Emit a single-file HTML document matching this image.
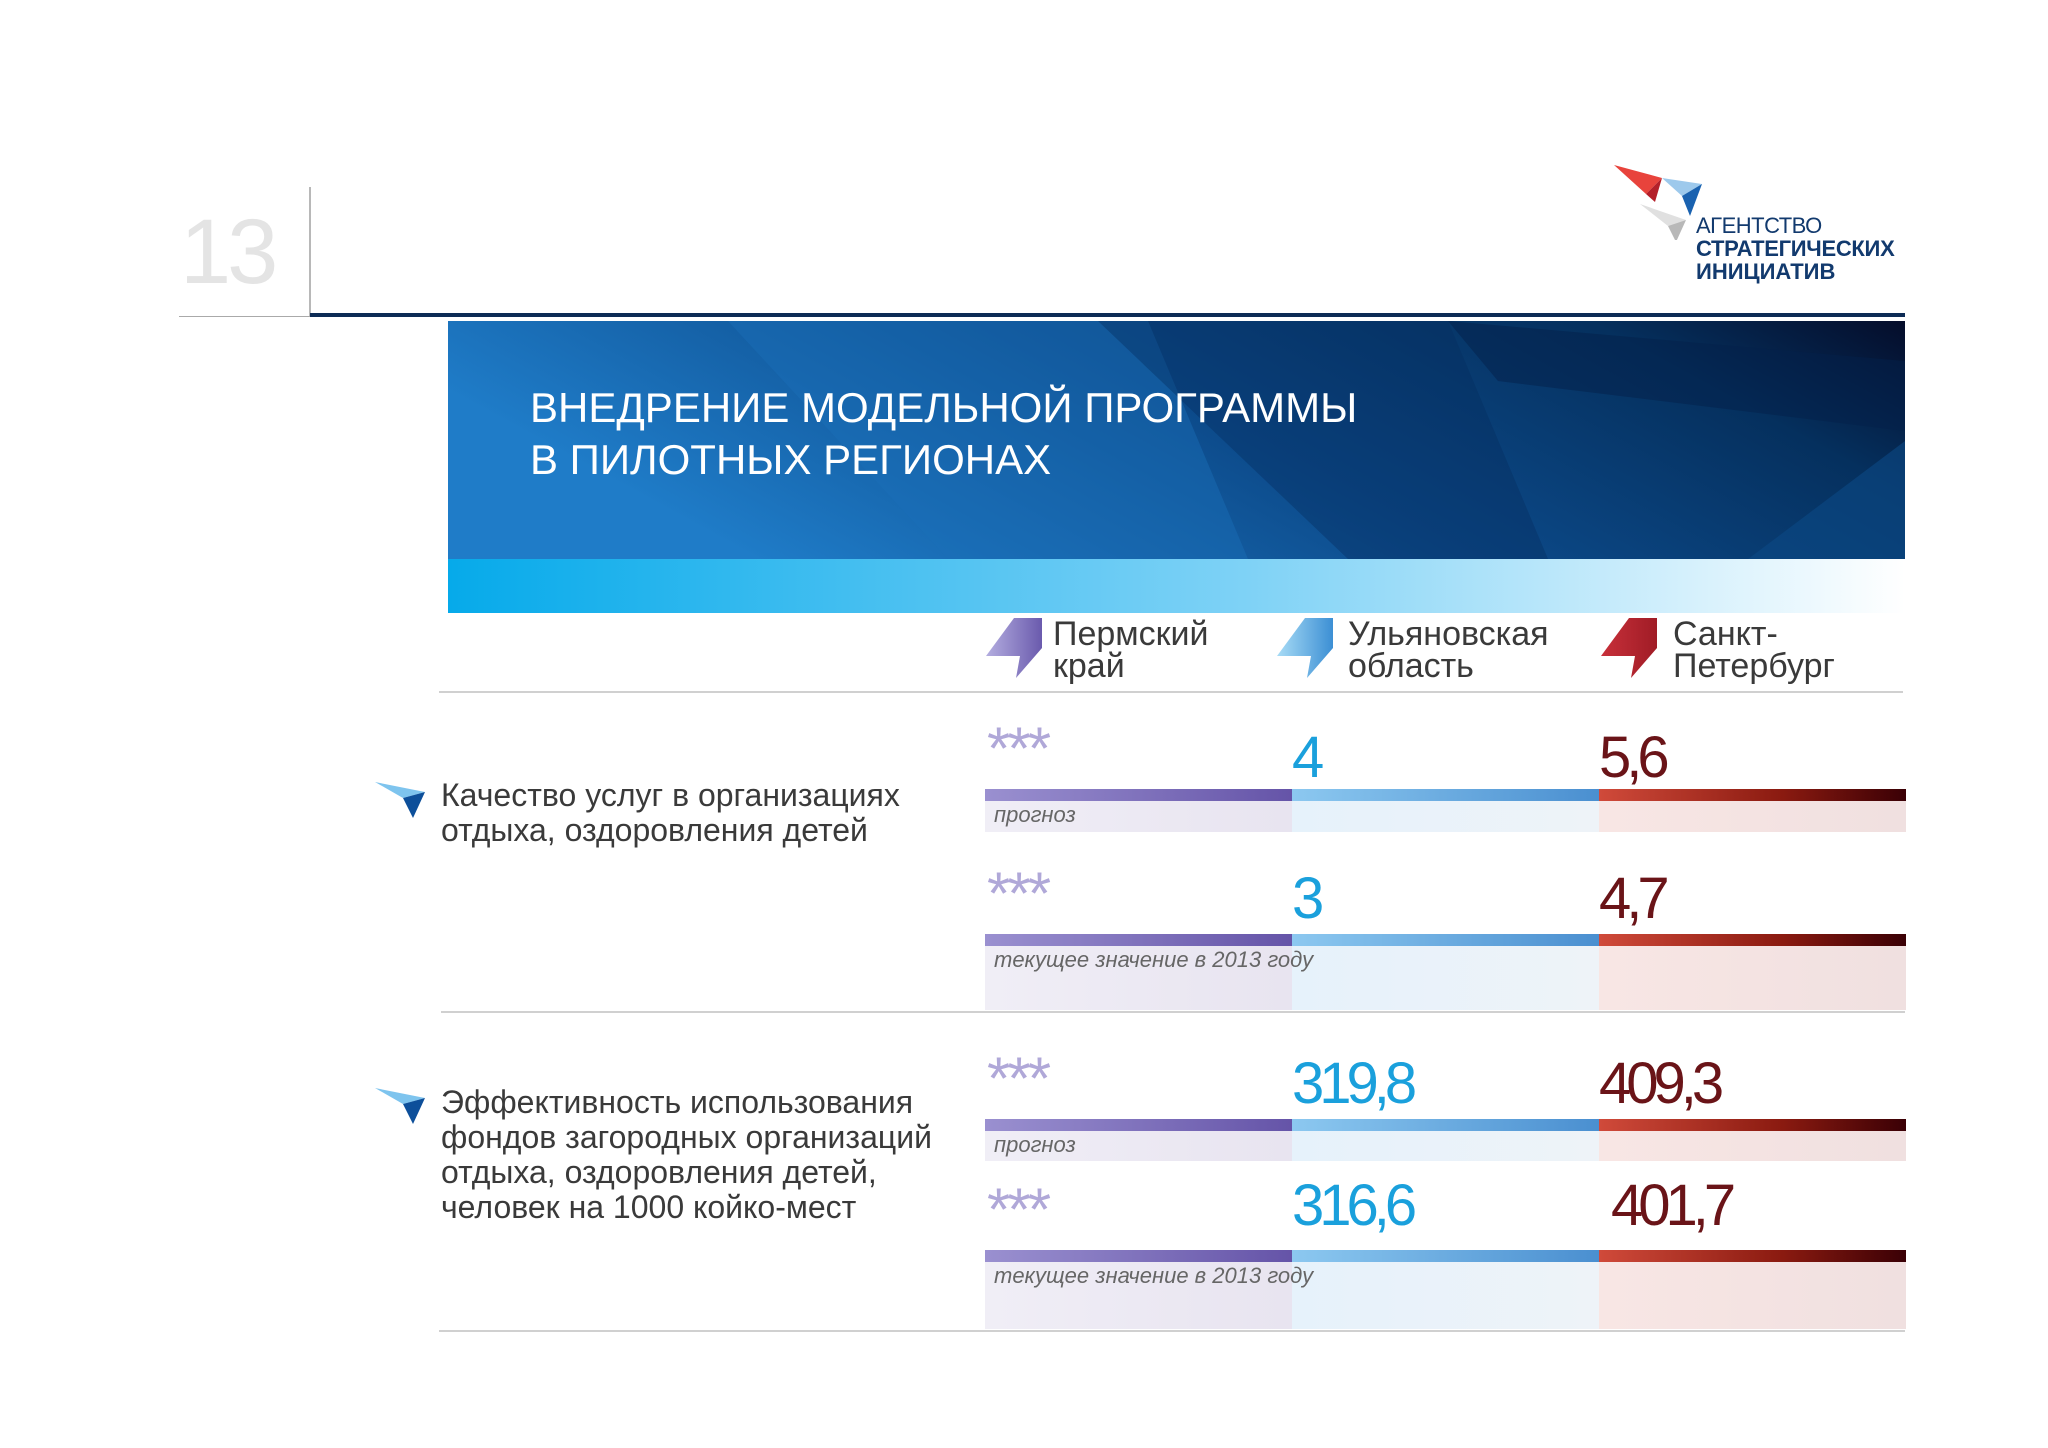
<!DOCTYPE html>
<html><head><meta charset="utf-8">
<style>
html,body{margin:0;padding:0;background:#fff;}
#page{position:relative;width:2048px;height:1448px;overflow:hidden;background:#fff;font-family:"Liberation Sans Narrow","Liberation Sans",sans-serif;}
.abs{position:absolute;white-space:nowrap;}
</style></head>
<body>
<div id="page">
<div class="abs" style="left:180px;top:200px;font-size:92px;color:#e4e4e4;font-family:'Liberation Sans',sans-serif;font-weight:300;letter-spacing:-4px;">13</div>
<div class="abs" style="left:309px;top:187px;width:2px;height:130px;background:#b8b8b8;"></div>
<div class="abs" style="left:179px;top:316px;width:131px;height:1px;background:#aaa;"></div>
<div class="abs" style="left:310px;top:313px;width:1595px;height:4px;background:#0d2b55;"></div>

<svg class="abs" style="left:1610px;top:160px" width="100" height="80">
<polygon points="4,5 52,18 36,34" fill="#e8433c"/>
<polygon points="36,34 52,18 45,42" fill="#b4202a"/>
<polygon points="52,18 92,24 72,36" fill="#9dc9ec"/>
<polygon points="72,36 92,24 80,56" fill="#1a62b0"/>
<polygon points="30,44 76,60 58,66" fill="#e0e0e0"/>
<polygon points="58,66 76,60 66,82" fill="#b8b8b8"/>
</svg>
<div class="abs" style="left:1696px;top:214px;font-family:'Liberation Sans',sans-serif;color:#123a6e;font-size:22px;line-height:23px;">
<div style="letter-spacing:-0.5px;">АГЕНТСТВО</div>
<div style="font-weight:bold;letter-spacing:-0.3px;">СТРАТЕГИЧЕСКИХ</div>
<div style="font-weight:bold;">ИНИЦИАТИВ</div>
</div>

<svg class="abs" style="left:448px;top:321px" width="1457" height="292">
<defs>
<linearGradient id="bg" x1="0" x2="1" y1="0.3" y2="0"><stop offset="0" stop-color="#1f7cc8"/><stop offset="0.45" stop-color="#0c4a8a"/><stop offset="0.8" stop-color="#05305e"/><stop offset="1" stop-color="#050d2a"/></linearGradient>
<linearGradient id="st" x1="0" x2="1"><stop offset="0" stop-color="#06aaea"/><stop offset="0.55" stop-color="#7fd2f6"/><stop offset="1" stop-color="#ffffff"/></linearGradient>
</defs>
<rect width="1457" height="238" fill="url(#bg)"/>
<polygon points="280,0 700,0 800,238 500,238" fill="#1b6fb8" opacity="0.45"/>
<polygon points="650,0 1000,0 1100,238 900,238" fill="#062e5e" opacity="0.4"/>
<polygon points="1000,0 1457,40 1457,110 1050,60" fill="#03204a" opacity="0.5"/>
<polygon points="1300,238 1457,120 1457,238" fill="#0c4a85" opacity="0.6"/>
<rect y="238" width="1457" height="54" fill="url(#st)"/>
</svg>
<div class="abs" style="left:530px;top:382px;color:#fff;font-size:42px;line-height:52px;">ВНЕДРЕНИЕ МОДЕЛЬНОЙ ПРОГРАММЫ<br>В ПИЛОТНЫХ РЕГИОНАХ</div>

<div class="abs" style="left:439px;top:691px;width:1464px;height:2px;background:#d0d0d0;"></div>
<div class="abs" style="left:441px;top:1011px;width:1464px;height:2px;background:#d0d0d0;"></div>
<div class="abs" style="left:439px;top:1330px;width:1466px;height:2px;background:#d0d0d0;"></div>

<svg class="abs" style="left:375px;top:780px" width="52" height="40"><polygon points="0,2 50,12 28,18" fill="#7ec4ee"/><polygon points="28,18 50,12 38,38" fill="#0d4f9a"/></svg>
<div class="abs" style="left:441px;top:778px;font-size:32px;line-height:35px;color:#3a3a3a;">Качество услуг в организациях<br>отдыха, оздоровления детей</div>
<svg class="abs" style="left:375px;top:1086px" width="52" height="40"><polygon points="0,2 50,12 28,18" fill="#7ec4ee"/><polygon points="28,18 50,12 38,38" fill="#0d4f9a"/></svg>
<div class="abs" style="left:441px;top:1085px;font-size:32px;line-height:35px;color:#3a3a3a;">Эффективность использования<br>фондов загородных организаций<br>отдыха, оздоровления детей,<br>человек на 1000 койко-мест</div>

<div id="table"></div>
</div>
<script>
const regions = ["Пермский<br>край", "Ульяновская<br>область", "Санкт-<br>Петербург"];
const rowLabels = ["прогноз", "текущее значение в 2013 году", "прогноз", "текущее значение в 2013 году"];
const permValues = ["***", "***", "***", "***"];
const ulyValues = ["4", "3", "319,8", "316,6"];
const spbValues = ["5,6", "4,7", "409,3", "401,7"];

const colX = [985, 1292, 1599];
const iconX = [986, 1277, 1601];
const nameX = [1053, 1348, 1673];
const colW = 307;
const barTop = [789, 934, 1119, 1250];
const boxH = [31, 64, 30, 67];
const valShift = [13, 9, 9, 0];
const iconCol = [["#b4aee0","#6a5aad"],["#a8dcf6","#3c8fd4"],["#c8303a","#a01c26"]];
const barGrad = ["linear-gradient(90deg,#9a90d0,#6554a8)","linear-gradient(90deg,#8cc8f0,#4a8fd0)","linear-gradient(90deg,#d04a3a,#8a1a10 60%,#3a0005)"];
const boxGrad = ["linear-gradient(90deg,#f0eef6,#e8e4f0)","linear-gradient(90deg,#e6f2fb,#eef3f8)","linear-gradient(90deg,#f8e6e4,#f0e0e0)"];
const valColor = ["#b0a8d8","#1aa0dc","#6a1418"];
const page = document.getElementById('page');

regions.forEach((r,i)=>{
  const ic = document.createElementNS('http://www.w3.org/2000/svg','svg');
  
  
  ic.setAttribute('class','abs');
  ic.setAttribute('width','62');ic.setAttribute('height','62');
  ic.style.left=iconX[i]+'px';ic.style.top='618px';
  ic.innerHTML=`<defs><linearGradient id="ig${i}" x1="0" x2="1"><stop offset="0" stop-color="${iconCol[i][0]}"/><stop offset="1" stop-color="${iconCol[i][1]}"/></linearGradient></defs><polygon points="0,38 28,0 56,0 56,30 30,60 34,38" fill="url(#ig${i})"/>`;
  page.appendChild(ic);
  const t=document.createElement('div');
  
  
  t.className='abs';
  t.style.cssText=`left:${nameX[i]}px;top:618px;font-size:34px;line-height:32px;color:#3a3a3a;`;
  t.innerHTML=r;
  page.appendChild(t);
});

const all=[permValues,ulyValues,spbValues];
barTop.forEach((bt,row)=>{
  for(let c=0;c<3;c++){
    const b=document.createElement('div');
    
    
    b.className='abs';
    b.style.cssText=`left:${colX[c]}px;top:${bt}px;width:${colW}px;height:12px;background:${barGrad[c]};`;
    page.appendChild(b);
    const bx=document.createElement('div');
    
    
    bx.className='abs';
    bx.style.cssText=`left:${colX[c]}px;top:${bt+12}px;width:${colW}px;height:${boxH[row]}px;background:${boxGrad[c]};`;
    page.appendChild(bx);
    const v=document.createElement('div');
    
    
    v.className='abs';
    const isStar=c===0;
    v.style.cssText=isStar?`left:${colX[c]+2}px;top:${bt-70}px;font-size:60px;line-height:60px;color:${valColor[c]};letter-spacing:-3px;`:`left:${colX[c]+(c===2&&row===3?12:0)}px;top:${bt-76+valShift[row]}px;font-size:58px;line-height:64px;color:${valColor[c]};letter-spacing:-5px;font-weight:300;`;
    v.textContent=all[c][row];
    page.appendChild(v);
  }
  const l=document.createElement('div');
  
  
  l.className='abs';
  l.style.cssText=`left:994px;top:${bt+13}px;font-size:22px;font-style:italic;color:#666;`;
  l.textContent=rowLabels[row];
  page.appendChild(l);
});
</script>
</body></html>
